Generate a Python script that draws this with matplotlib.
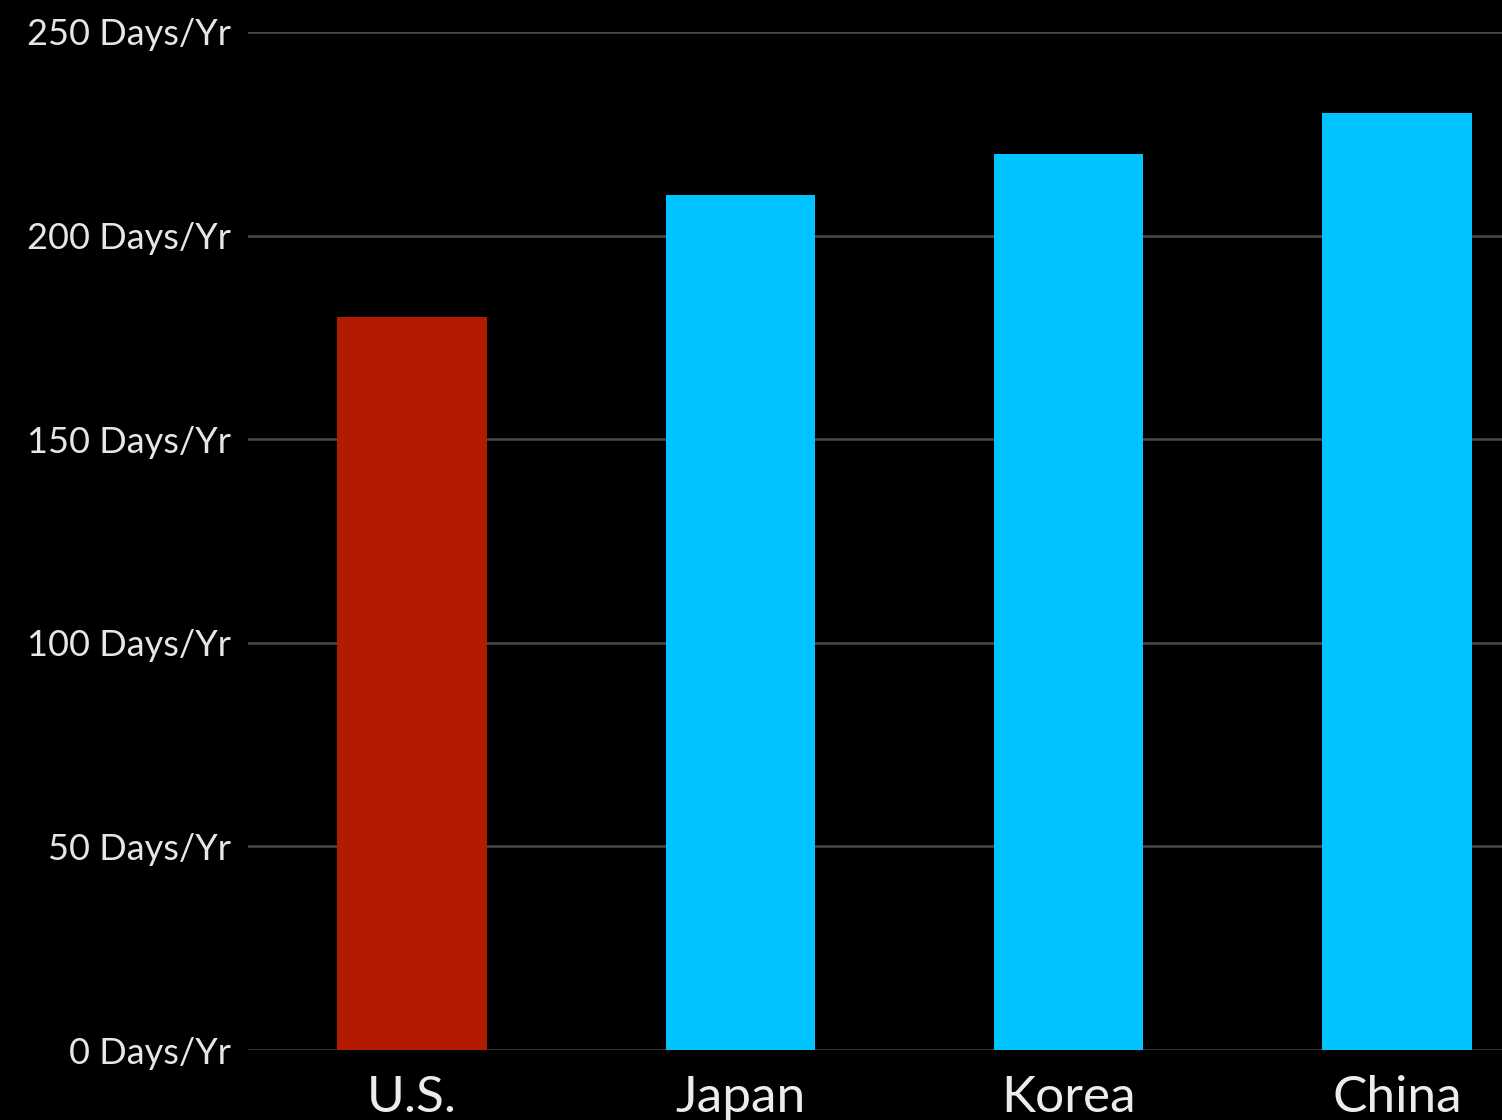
import matplotlib
matplotlib.use('Agg')
import matplotlib.pyplot as plt

countries = ['U.S.', 'Japan', 'Korea', 'China']
days = [180, 210, 220, 230]
bar_colors = ['#b31b00', '#00c4ff', '#00c4ff', '#00c4ff']
yticks = [0, 50, 100, 150, 200, 250]
ytick_labels = [f'{v} Days/Yr' for v in yticks]

plt.rcParams['font.family'] = ['Lato', 'DejaVu Sans']

fig = plt.figure(figsize=(15.02, 11.2), dpi=100, facecolor='black')
ax = fig.add_axes([0.165, 0.0625, 0.835, 0.909])
ax.set_facecolor('black')

x = range(len(countries))
ax.bar(x, days, width=0.455, color=bar_colors, zorder=3)

ax.set_xlim(-0.5, 3.32)
ax.set_ylim(0, 250)
ax.set_yticks(yticks)
ax.set_yticklabels(ytick_labels, fontsize=26, color='#e6e6e6')
ax.set_xticks(list(x))
ax.set_xticklabels(countries, fontsize=37, color='#ececec')
ax.tick_params(axis='y', length=0, pad=12)
ax.tick_params(axis='x', length=0, pad=18)

ax.grid(axis='y', color='#4a4a4a', lw=1.8, zorder=0)
for s in ax.spines.values():
    s.set_visible(False)

fig.savefig('out.png', dpi=100, facecolor='black')
